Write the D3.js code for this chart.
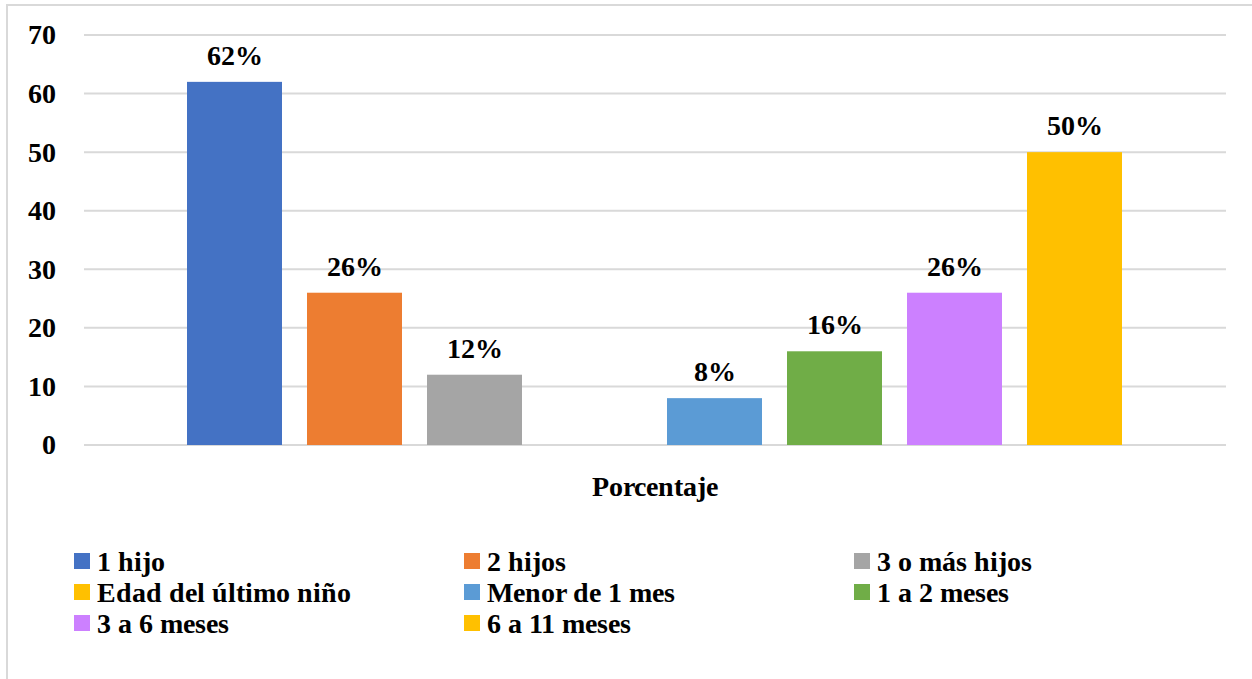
<!DOCTYPE html>
<html>
<head>
<meta charset="utf-8">
<script src="https://cdn.jsdelivr.net/npm/d3@7"></script>
<style>
  @font-face {
    font-family: "ChartSerif";
    src: local("Liberation Serif Bold"), local("LiberationSerif-Bold"), local("Times New Roman Bold"), local("Tinos Bold");
    font-weight: bold;
  }
  body { margin: 0; }
  #chart text { font-family: "ChartSerif", "Liberation Serif", "Times New Roman", Tinos, serif; font-weight: bold; font-size: 28px; fill: #000; }
</style>
</head>
<body>
<svg id="chart" width="1252" height="679"></svg>
<script>
// Series shown as individual bars within the single "Porcentaje" category
const seriesNames = [
  "1 hijo", "2 hijos", "3 o más hijos", "Edad del último niño",
  "Menor de 1 mes", "1 a 2 meses", "3 a 6 meses", "6 a 11 meses"
];
const seriesValues = [62, 26, 12, null, 8, 16, 26, 50];
const seriesColors = [
  "#4472C4", "#ED7D31", "#A5A5A5", "#FFC000",
  "#5B9BD5", "#70AD47", "#CC80FF", "#FFC000"
];
const yTicks = [0, 10, 20, 30, 40, 50, 60, 70];
const categoryLabel = "Porcentaje";

const svg = d3.select("#chart");

// outer frame
svg.append("rect")
  .attr("x", 7).attr("y", 5)
  .attr("width", 1260).attr("height", 690)
  .attr("fill", "none")
  .attr("stroke", "#d9d9d9")
  .attr("stroke-width", 2);

const plot = { left: 84, right: 1226, top: 35, bottom: 445 };

const y = d3.scaleLinear().domain([0, 70]).range([plot.bottom, plot.top]);

const x = d3.scaleBand()
  .domain(seriesNames)
  .range([174.5, 1134.5])
  .paddingInner(25 / 120)
  .paddingOuter(12.5 / 120);

// horizontal gridlines
svg.append("g")
  .selectAll("line")
  .data(yTicks)
  .join("line")
  .attr("x1", plot.left).attr("x2", plot.right)
  .attr("y1", d => y(d)).attr("y2", d => y(d))
  .attr("stroke", "#d9d9d9")
  .attr("stroke-width", 2);

// y axis labels
const yAxis = d3.axisLeft(y).tickValues(yTicks).tickSize(0).tickPadding(0);
const yg = svg.append("g")
  .attr("transform", "translate(56,0)")
  .call(yAxis);
yg.attr("font-family", null).attr("font-size", null);
yg.select(".domain").remove();
yg.selectAll("text").attr("fill", null);

const rows = seriesNames.map((name, i) => ({ name, value: seriesValues[i], color: seriesColors[i] }));
const drawn = rows.filter(d => d.value != null);

// bars
svg.append("g")
  .selectAll("rect")
  .data(drawn)
  .join("rect")
  .attr("x", d => x(d.name))
  .attr("width", x.bandwidth())
  .attr("y", d => y(d.value))
  .attr("height", d => y(0) - y(d.value))
  .attr("fill", d => d.color);

// value labels
svg.append("g")
  .selectAll("text")
  .data(drawn)
  .join("text")
  .attr("x", d => x(d.name) + x.bandwidth() / 2)
  .attr("y", d => y(d.value) - 17)
  .attr("text-anchor", "middle")
  .text(d => d.value + "%");

// category label
svg.append("text")
  .attr("x", 655)
  .attr("y", 496)
  .attr("text-anchor", "middle")
  .text(categoryLabel);

// legend: three columns
const legendCols = [74, 464, 854];
const legendRowY = [561, 592, 623];
const lg = svg.append("g")
  .selectAll("g")
  .data(rows)
  .join("g")
  .attr("transform", (d, i) => `translate(${legendCols[i % 3]},${legendRowY[Math.floor(i / 3)]})`);
lg.append("rect")
  .attr("x", 0).attr("y", -8)
  .attr("width", 16).attr("height", 16)
  .attr("fill", d => d.color);
lg.append("text")
  .attr("x", 23)
  .attr("y", 10)
  .text(d => d.name);
</script>
</body>
</html>
